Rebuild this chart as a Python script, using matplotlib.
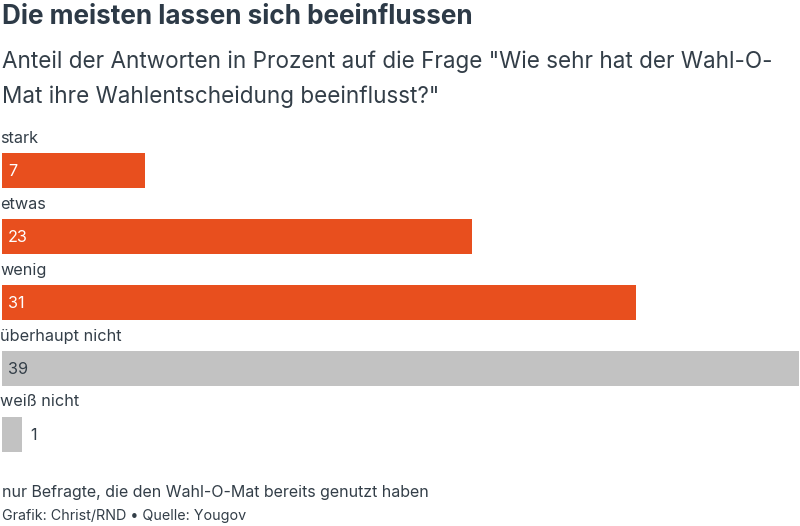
import matplotlib.pyplot as plt

categories = ['stark', 'etwas', 'wenig', 'überhaupt nicht', 'weiß nicht']
values = [7, 23, 31, 39, 1]
colors = ['#e84f1e', '#e84f1e', '#e84f1e', '#c2c2c2', '#c2c2c2']

TEXT = '#333e48'
W, H = 800, 526


def main():
    plt.rcParams['font.family'] = ['Inter', 'DejaVu Sans']
    fig = plt.figure(figsize=(W / 100, H / 100), dpi=100)

    # axes placed in pixel terms: one slot = 66 px, first bar centre at y=170.5
    slot = 66
    top_px, bot_px = 120, 460
    ax = fig.add_axes([2 / W, 1 - bot_px / H, 797 / W, (bot_px - top_px) / H])
    ax.set_xlim(0, max(values))
    ax.set_ylim((bot_px - 170.5) / slot, (top_px - 170.5) / slot)
    ax.axis('off')

    ypos = list(range(len(categories)))
    ax.barh(ypos, values, height=35 / slot, color=colors, left=0)

    scale = 797 / max(values)
    for i, (cat, v, c) in enumerate(zip(categories, values, colors)):
        ax.text(-2 / scale, i - 32.5 / slot, cat, ha='left', va='center',
                fontsize=11.7, color=TEXT)
        if v * scale > 40:
            ax.text(6 / scale, i + 0.01, str(v), ha='left', va='center',
                    fontsize=11.7, color='white' if c == '#e84f1e' else TEXT)
        else:
            ax.text(v + 8 / scale, i + 0.01, str(v), ha='left', va='center',
                    fontsize=11.7, color=TEXT)

    fig.text(2 / W, 1 - 17 / H, 'Die meisten lassen sich beeinflussen', ha='left', va='center',
             fontsize=18.8, fontweight='bold', color='#2d3a47')
    fig.text(2 / W, 1 - 62 / H, 'Anteil der Antworten in Prozent auf die Frage "Wie sehr hat der Wahl-O-',
             ha='left', va='center', fontsize=16.2, color=TEXT)
    fig.text(2 / W, 1 - 97 / H, 'Mat ihre Wahlentscheidung beeinflusst?"',
             ha='left', va='center', fontsize=16.2, color=TEXT)
    fig.text(2 / W, 1 - 492 / H, 'nur Befragte, die den Wahl-O-Mat bereits genutzt haben',
             ha='left', va='center', fontsize=11.5, color=TEXT)
    fig.text(2 / W, 1 - 516 / H, 'Grafik: Christ/RND • Quelle: Yougov',
             ha='left', va='center', fontsize=10.3, color=TEXT)

    fig.savefig('out.png', dpi=100)


if __name__ == '__main__':
    main()
